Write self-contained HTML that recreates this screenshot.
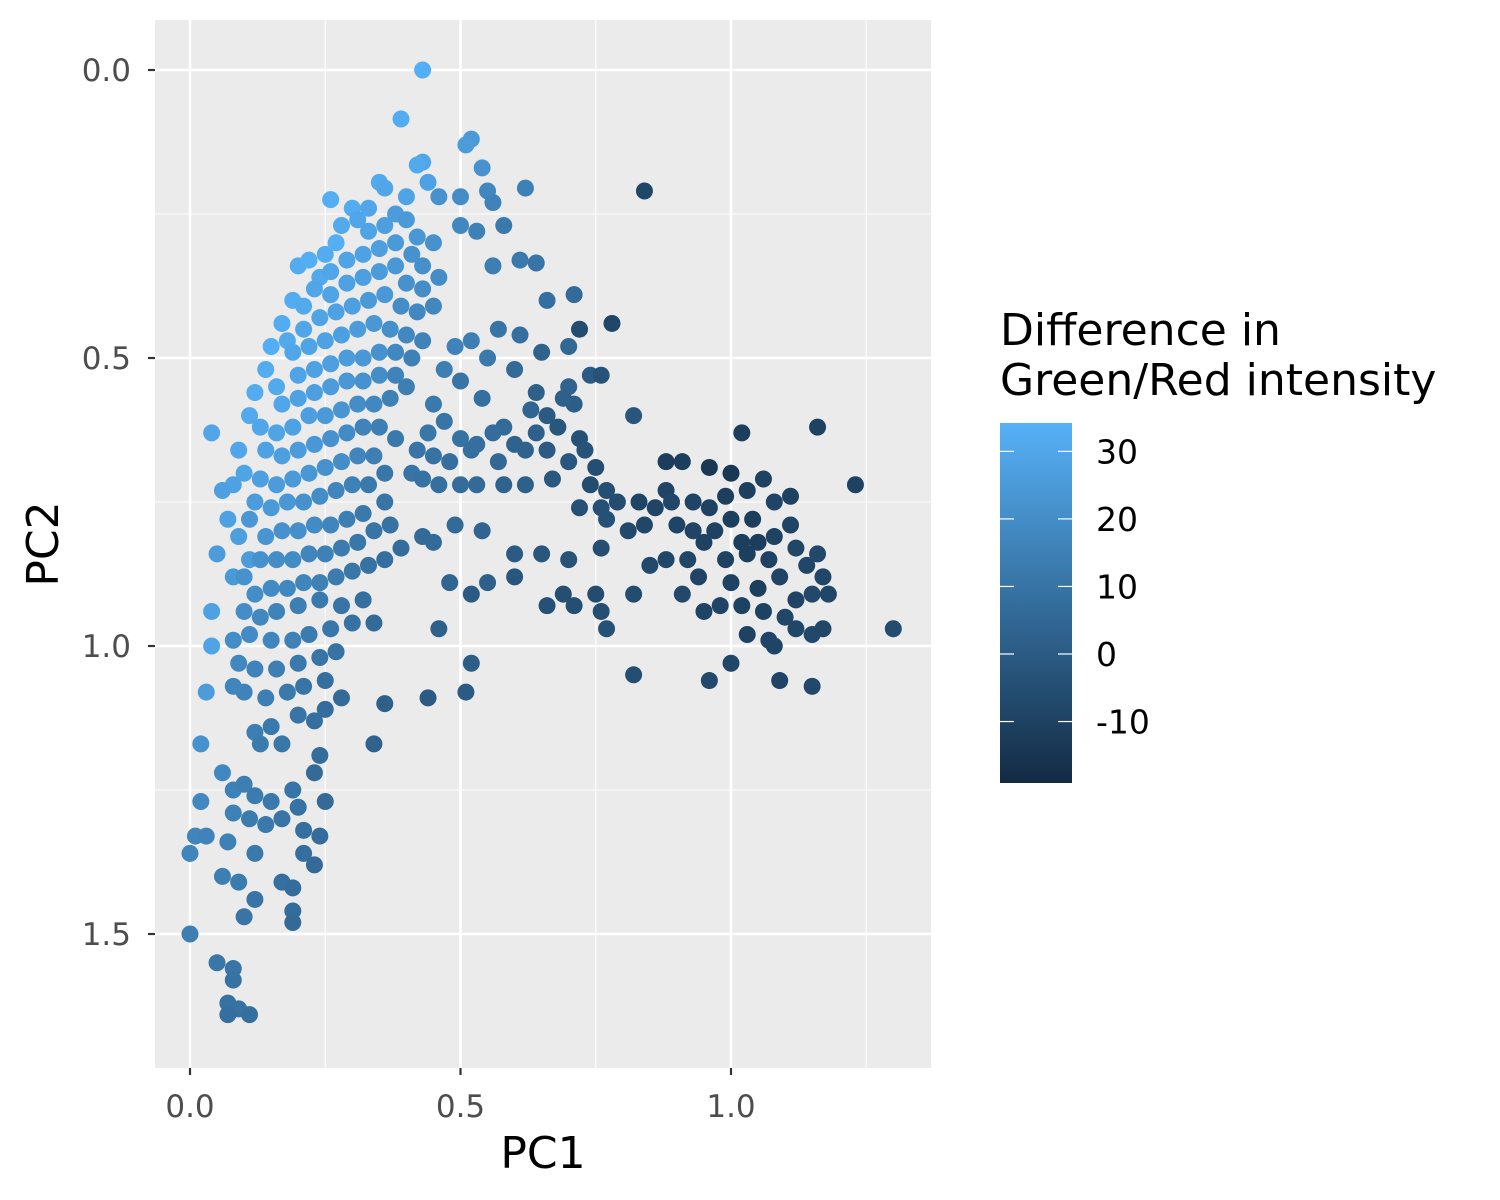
<!DOCTYPE html>
<html><head><meta charset="utf-8">
<style>
html,body{margin:0;padding:0;background:#fff;}
svg{display:block;font-family:"DejaVu Sans","Liberation Sans",sans-serif;}
</style></head>
<body>
<svg id="chart" width="1500" height="1200" viewBox="0 0 1500 1200">
<defs>
<linearGradient id="cbar" x1="0" y1="1" x2="0" y2="0">
<stop offset="0" stop-color="#132B43"/><stop offset="1" stop-color="#56B1F7"/>
</linearGradient>
</defs>
<rect x="155" y="20" width="776" height="1048" fill="#EBEBEB"/>
<g id="grid"></g>
<g id="points"></g>
<g id="axes"></g>
<text x="543" y="1168" font-size="44" text-anchor="middle" fill="#000">PC1</text>
<text x="0" y="0" font-size="44" text-anchor="middle" fill="#000" transform="translate(58,544) rotate(-90)">PC2</text>
<g>
<text x="1000" y="345" font-size="44" fill="#000">Difference in</text>
<text x="1000" y="395" font-size="44" fill="#000">Green/Red intensity</text>
<rect x="1000" y="423" width="72" height="360" fill="url(#cbar)"/>
<g id="legend-ticks"></g>
</g>
</svg>
<script>
// data: [PC1, PC2, intensity]
const pc1 = [];
const pc2 = [];
const intensity = [];
const triples = [
[0.43,0.0,33],[0.39,0.085,32],[0.52,0.12,25],[0.51,0.13,26],[0.54,0.17,22],[0.43,0.16,30],[0.42,0.165,31],[0.84,0.21,-8],[0.62,0.205,15],[0.55,0.21,18],[0.56,0.23,16],[0.50,0.22,20],[0.46,0.22,22],[0.44,0.195,28],[0.35,0.195,31],[0.36,0.205,30],[0.40,0.22,29],[0.26,0.225,33],[0.30,0.24,32],[0.33,0.24,30],
[0.50,0.27,18],[0.53,0.28,15],[0.58,0.27,12],[0.56,0.34,14],[0.64,0.335,10],[0.61,0.33,12],[0.66,0.40,8],[0.71,0.39,6],[0.72,0.45,-6],[0.78,0.44,-8],[0.70,0.48,5],[0.65,0.49,3],[0.61,0.46,8],[0.57,0.45,10],[0.60,0.52,6],[0.55,0.50,12],[0.52,0.47,14],[0.49,0.48,16],[0.47,0.52,14],[0.50,0.54,10],[0.54,0.57,8],[0.64,0.56,2],[0.70,0.55,3],[0.74,0.53,0],[0.76,0.53,-3],[0.71,0.58,1],[0.66,0.60,0],[0.68,0.62,-2],[0.72,0.64,-4],[0.69,0.57,2],[0.63,0.59,4],[0.58,0.62,6],[0.56,0.63,7],[0.53,0.65,8],[0.50,0.64,9],[0.47,0.61,10],[0.45,0.58,12],[0.44,0.63,11],[0.42,0.66,10],[0.41,0.70,10],[0.45,0.67,9],[0.48,0.68,8],[0.52,0.66,8],[0.57,0.68,5],[0.62,0.66,3],[0.66,0.66,0],[0.70,0.68,-2],[0.73,0.66,-3],[0.75,0.69,-5],[0.74,0.72,-6],[0.77,0.73,-5],[0.79,0.75,-6],[0.76,0.76,-4],[0.72,0.76,-4],[0.67,0.71,-1],[0.62,0.72,2],[0.58,0.72,3],[0.53,0.72,6],[0.50,0.72,7],[0.46,0.72,8],[0.43,0.71,9],[0.49,0.79,6],[0.54,0.80,4],[0.60,0.84,0],[0.65,0.84,-2],[0.70,0.85,-3],[0.76,0.83,-5],[0.77,0.78,-4],[0.81,0.80,-7],[0.84,0.79,-8],[0.86,0.76,-9],[0.83,0.75,-9],[0.88,0.73,-9],[0.88,0.68,-12],[0.91,0.68,-12],[0.96,0.69,-14],[1.00,0.70,-14],[1.02,0.63,-12],[1.16,0.62,-10],[1.23,0.72,-10],[0.82,0.60,-2],[0.64,0.63,2],[0.60,0.65,3],
[0.89,0.75,-8],[0.93,0.75,-9],[0.96,0.76,-10],[0.99,0.74,-11],[1.03,0.73,-11],[1.06,0.71,-10],[1.08,0.75,-9],[1.11,0.74,-10],[1.00,0.78,-11],[1.04,0.78,-12],[0.97,0.80,-10],[0.93,0.80,-9],[0.90,0.79,-9],[0.95,0.82,-10],[1.02,0.82,-11],[1.05,0.82,-12],[1.08,0.81,-10],[1.11,0.79,-9],[1.12,0.83,-8],[1.07,0.85,-10],[1.03,0.84,-11],[0.99,0.85,-10],[0.92,0.85,-8],[0.88,0.85,-8],[0.85,0.86,-7],[0.94,0.88,-9],[1.00,0.89,-10],[1.05,0.90,-11],[1.09,0.88,-9],[1.14,0.86,-8],[1.16,0.84,-7],[1.17,0.88,-8],[1.15,0.91,-7],[1.18,0.91,-8],[1.12,0.92,-9],[1.10,0.95,-8],[1.06,0.94,-10],[1.02,0.93,-10],[0.98,0.93,-9],[0.95,0.94,-9],[0.91,0.91,-7],[0.82,0.91,-6],[0.75,0.91,-6],[0.71,0.93,-5],[0.66,0.93,-4],[0.69,0.91,-5],[0.76,0.94,-5],[1.03,0.98,-10],[1.07,0.99,-9],[1.08,1.00,-9],[1.12,0.97,-8],[1.15,0.98,-7],[1.17,0.97,-8],[1.30,0.97,-6],[1.00,1.03,-8],[0.96,1.06,-7],[0.82,1.05,-5],[1.09,1.06,-9],[1.15,1.07,-7],[0.77,0.97,-4],[0.60,0.88,-2],[0.55,0.89,2],[0.52,0.91,0],[0.48,0.89,4],[0.45,0.82,6],[0.43,0.81,6],
[0.20,0.34,32],[0.22,0.33,33],[0.25,0.32,32],[0.27,0.30,33],[0.24,0.36,31],[0.19,0.40,32],[0.21,0.41,31],[0.17,0.44,32],[0.15,0.48,33],[0.18,0.47,31],[0.14,0.52,32],[0.16,0.55,31],[0.12,0.56,32],[0.11,0.60,31],[0.13,0.62,30],[0.09,0.66,30],[0.10,0.70,29],[0.08,0.72,28],[0.06,0.73,27],[0.07,0.78,28],[0.09,0.81,27],[0.05,0.84,26],[0.08,0.88,25],[0.11,0.85,26],[0.04,0.63,30],[0.04,0.94,28],[0.04,1.00,29],[0.03,1.08,26],
[0.28,0.27,31],[0.31,0.26,30],[0.33,0.28,29],[0.36,0.27,27],[0.38,0.25,26],[0.40,0.26,25],[0.42,0.29,24],[0.45,0.30,22],[0.43,0.34,21],[0.41,0.32,22],[0.38,0.30,25],[0.35,0.31,27],[0.32,0.32,28],[0.29,0.33,29],[0.26,0.35,30],[0.23,0.38,30],[0.26,0.39,29],[0.29,0.37,28],[0.32,0.36,27],[0.35,0.35,26],[0.38,0.34,24],[0.40,0.37,22],[0.43,0.38,20],[0.46,0.36,20],[0.45,0.41,18],[0.42,0.42,18],[0.39,0.41,20],[0.36,0.39,24],[0.33,0.40,25],[0.30,0.41,27],[0.27,0.42,28],[0.24,0.43,29],[0.21,0.45,30],[0.19,0.49,30],[0.22,0.48,29],[0.25,0.47,28],[0.28,0.46,27],[0.31,0.45,26],[0.34,0.44,24],[0.37,0.45,21],[0.40,0.46,18],[0.43,0.47,16],[0.41,0.50,15],[0.38,0.49,18],[0.35,0.49,22],[0.32,0.50,24],[0.29,0.50,26],[0.26,0.51,27],[0.23,0.52,28],[0.20,0.53,29],[0.17,0.58,30],[0.20,0.57,28],[0.23,0.56,27],[0.26,0.55,26],[0.29,0.54,24],[0.32,0.54,22],[0.35,0.53,20],[0.38,0.53,16],[0.40,0.55,14],[0.37,0.57,15],[0.34,0.58,18],[0.31,0.58,20],[0.28,0.59,23],[0.25,0.60,25],[0.22,0.60,27],[0.19,0.62,28],[0.16,0.63,29],[0.14,0.66,28],[0.17,0.67,27],[0.20,0.66,26],[0.23,0.65,24],[0.26,0.64,22],[0.29,0.63,19],[0.32,0.62,16],[0.35,0.62,14],[0.38,0.64,12],[0.34,0.67,14],[0.31,0.67,17],[0.28,0.68,20],[0.25,0.69,22],[0.22,0.70,24],[0.19,0.71,25],[0.16,0.72,26],[0.13,0.71,27],[0.12,0.75,26],[0.15,0.76,25],[0.18,0.75,24],[0.21,0.75,22],[0.24,0.74,20],[0.27,0.73,17],[0.30,0.72,15],[0.33,0.72,12],[0.36,0.70,11],[0.36,0.75,10],[0.32,0.77,12],[0.29,0.78,14],[0.26,0.79,17],[0.23,0.79,19],[0.20,0.80,21],[0.17,0.80,22],[0.14,0.81,23],[0.11,0.78,24],[0.13,0.85,22],[0.16,0.85,20],[0.19,0.85,19],[0.22,0.84,17],[0.25,0.84,15],[0.28,0.83,13],[0.31,0.82,11],[0.34,0.80,10],[0.37,0.79,9],[0.39,0.83,7],[0.36,0.85,8],[0.33,0.86,9],[0.30,0.87,11],[0.27,0.88,13],[0.24,0.89,15],[0.21,0.89,17],[0.18,0.90,18],[0.15,0.90,19],[0.12,0.91,20],[0.10,0.88,22],
[0.10,0.94,20],[0.13,0.95,18],[0.16,0.94,16],[0.20,0.93,14],[0.24,0.92,12],[0.28,0.93,10],[0.32,0.92,8],[0.34,0.96,6],[0.30,0.96,9],[0.26,0.97,11],[0.22,0.98,13],[0.19,0.99,15],[0.15,0.99,17],[0.11,0.98,19],[0.08,0.99,20],[0.09,1.03,18],[0.12,1.04,16],[0.16,1.04,14],[0.20,1.03,12],[0.24,1.02,10],[0.27,1.01,9],[0.25,1.06,8],[0.21,1.07,10],[0.18,1.08,12],[0.14,1.09,14],[0.10,1.08,16],[0.08,1.07,17],[0.12,1.15,14],[0.15,1.14,12],[0.20,1.12,10],[0.23,1.13,8],[0.28,1.09,6],[0.25,1.11,7],[0.17,1.17,11],[0.13,1.17,13],[0.02,1.17,22],[0.06,1.22,18],[0.24,1.19,7],[0.23,1.22,6],[0.34,1.17,3],[0.36,1.10,2],[0.44,1.09,0],[0.51,1.08,0],[0.52,1.03,1],[0.46,0.97,2],[0.02,1.27,18],[0.08,1.25,15],[0.10,1.24,14],[0.12,1.26,13],[0.15,1.27,12],[0.19,1.25,10],[0.20,1.28,9],[0.25,1.27,6],[0.08,1.29,15],[0.11,1.30,13],[0.14,1.31,12],[0.17,1.30,10],[0.21,1.32,8],[0.24,1.33,7],[0.00,1.36,17],[0.01,1.33,17],[0.03,1.33,16],[0.07,1.34,15],[0.12,1.36,12],[0.21,1.36,8],[0.23,1.38,6],[0.06,1.40,14],[0.09,1.41,13],[0.17,1.41,8],[0.19,1.42,7],[0.12,1.44,10],[0.10,1.47,10],[0.19,1.46,7],[0.19,1.48,6],[0.00,1.50,14],[0.05,1.55,11],[0.08,1.56,10],[0.08,1.58,9],[0.07,1.62,9],[0.09,1.63,9],[0.07,1.64,8],[0.11,1.64,8]
];
for (const t of triples) { pc1.push(t[0]); pc2.push(t[1]); intensity.push(t[2]); }

const xTicks = [0, 0.5, 1.0];
const xTickLabels = ["0.0", "0.5", "1.0"];
const xMinor = [0.25, 0.75, 1.25];
const yTicks = [0, 0.5, 1.0, 1.5];
const yTickLabels = ["0.0", "0.5", "1.0", "1.5"];
const yMinor = [0.25, 0.75, 1.25];
const legendTicks = [30, 20, 10, 0, -10];
const legendTickLabels = ["30", "20", "10", "0", "-10"];

const NS = "http://www.w3.org/2000/svg";
const xScale = v => 190 + v * 541;
const yScale = v => 70 + v * 576;
const cMin = -19.1, cMax = 34.2;
const cScale = v => 783 - (v - cMin) / (cMax - cMin) * 360;
function lerp(a, b, t) { return Math.round(a + (b - a) * t); }
function color(v) {
  let t = (v - cMin) / (cMax - cMin); t = Math.max(0, Math.min(1, t));
  return "rgb(" + lerp(0x13, 0x56, t) + "," + lerp(0x2B, 0xB1, t) + "," + lerp(0x43, 0xF7, t) + ")";
}
function mk(tag, attrs, parent) {
  const e = document.createElementNS(NS, tag);
  for (const k in attrs) e.setAttribute(k, attrs[k]);
  parent.appendChild(e); return e;
}
const grid = document.getElementById("grid");
for (const v of xMinor) {
  const l = mk("line", {x1: xScale(v), x2: xScale(v), y1: 20, y2: 1068, stroke: "#fff", "stroke-width": 1.1}, grid);
  
  
}
for (const v of yMinor) {
  const l = mk("line", {x1: 155, x2: 931, y1: yScale(v), y2: yScale(v), stroke: "#fff", "stroke-width": 1.1}, grid);
  
  
}
for (const v of xTicks) {
  const l = mk("line", {x1: xScale(v), x2: xScale(v), y1: 20, y2: 1068, stroke: "#fff", "stroke-width": 2.6}, grid);
  
  
}
for (const v of yTicks) {
  const l = mk("line", {x1: 155, x2: 931, y1: yScale(v), y2: yScale(v), stroke: "#fff", "stroke-width": 2.6}, grid);
  
  
}
const pts = document.getElementById("points");
for (let i = 0; i < pc1.length; i++) {
  const c = mk("circle", {cx: xScale(pc1[i]), cy: yScale(pc2[i]), r: 8.5, fill: color(intensity[i])}, pts);
  
  
}
const axes = document.getElementById("axes");
xTicks.forEach((v, i) => {
  const t = mk("line", {x1: xScale(v), x2: xScale(v), y1: 1068, y2: 1075, stroke: "#333", "stroke-width": 2.2}, axes);
  
  
  const lb = mk("text", {x: xScale(v), y: 1117, "font-size": 31, "text-anchor": "middle", fill: "#4D4D4D"}, axes);
  lb.textContent = xTickLabels[i];
  
  
});
yTicks.forEach((v, i) => {
  const t = mk("line", {x1: 148, x2: 155, y1: yScale(v), y2: yScale(v), stroke: "#333", "stroke-width": 2.2}, axes);
  
  
  const lb = mk("text", {x: 131, y: yScale(v) + 11, "font-size": 31, "text-anchor": "end", fill: "#4D4D4D"}, axes);
  lb.textContent = yTickLabels[i];
  
  
});
const lg = document.getElementById("legend-ticks");
legendTicks.forEach((v, i) => {
  const y = cScale(v);
  const a = mk("line", {x1: 1000, x2: 1014, y1: y, y2: y, stroke: "#fff", "stroke-width": 1.2}, lg);
  
  
  const b = mk("line", {x1: 1058, x2: 1072, y1: y, y2: y, stroke: "#fff", "stroke-width": 1.2}, lg);
  
  
  const lb = mk("text", {x: 1096, y: y + 12, "font-size": 33, fill: "#000"}, lg);
  lb.textContent = legendTickLabels[i];
  
  
});
</script>
</body></html>
